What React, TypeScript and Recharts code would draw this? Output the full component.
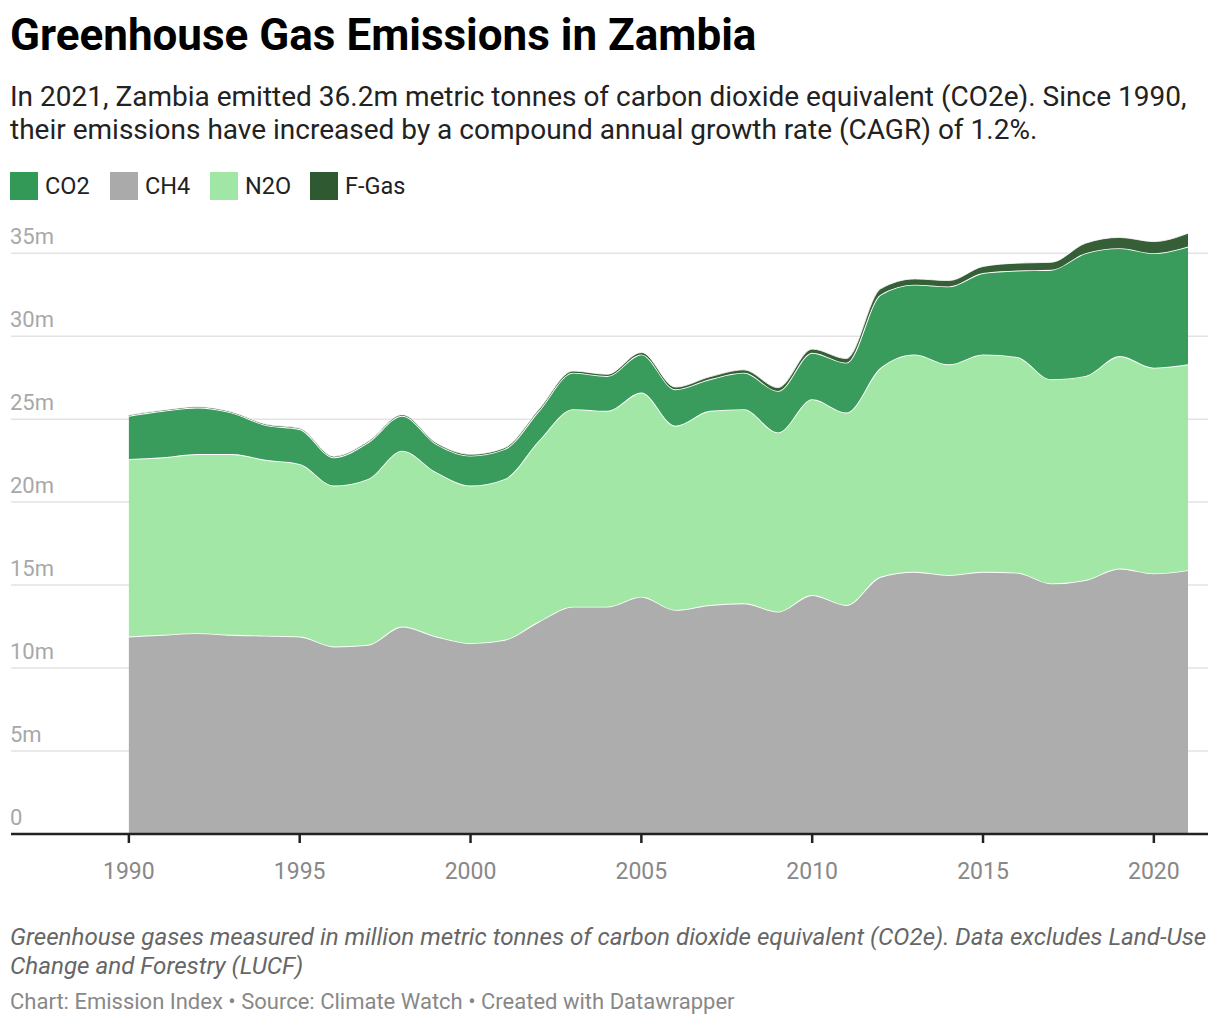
import React from 'react';
import { AreaChart, Area, XAxis, YAxis, CartesianGrid } from 'recharts';

const years = [
  1990, 1991, 1992, 1993, 1994, 1995, 1996, 1997, 1998, 1999, 2000, 2001, 2002, 2003, 2004, 2005,
  2006, 2007, 2008, 2009, 2010, 2011, 2012, 2013, 2014, 2015, 2016, 2017, 2018, 2019, 2020, 2021,
];

// million tonnes CO2e
const ch4 = [
  11.9, 12.0, 12.1, 12.0, 11.95, 11.9, 11.3, 11.4, 12.5, 11.9, 11.5, 11.7, 12.8, 13.7, 13.7, 14.3,
  13.5, 13.8, 13.9, 13.4, 14.4, 13.8, 15.5, 15.8, 15.6, 15.8, 15.75, 15.1, 15.3, 16.0, 15.7, 15.9,
];
const n2o = [
  10.7, 10.7, 10.8, 10.9, 10.6, 10.4, 9.7, 10.0, 10.6, 9.9, 9.5, 9.7, 10.9, 11.9, 11.8, 12.3,
  11.1, 11.7, 11.7, 10.8, 11.8, 11.6, 12.6, 13.1, 12.7, 13.1, 13.0, 12.3, 12.3, 12.8, 12.4, 12.4,
];
const co2 = [
  2.6, 2.8, 2.8, 2.5, 2.1, 2.1, 1.7, 2.2, 2.1, 1.7, 1.8, 1.8, 1.8, 2.2, 2.1, 2.3,
  2.2, 1.9, 2.2, 2.5, 2.8, 3.0, 4.4, 4.2, 4.7, 4.9, 5.2, 6.6, 7.4, 6.5, 6.9, 7.1,
];
const fgas = [
  0.05, 0.05, 0.05, 0.05, 0.05, 0.05, 0.06, 0.06, 0.07, 0.07, 0.08, 0.08, 0.09, 0.1, 0.1, 0.12,
  0.13, 0.15, 0.17, 0.2, 0.22, 0.25, 0.35, 0.35, 0.35, 0.4, 0.45, 0.45, 0.6, 0.65, 0.7, 0.8,
];

const yTicks = [0, 5, 10, 15, 20, 25, 30, 35];
const xTicks = [1990, 1995, 2000, 2005, 2010, 2015, 2020];

const COLORS = {
  CO2: '#339957',
  CH4: '#aaaaaa',
  N2O: '#a0e6a4',
  FGas: '#2f5a31',
};

const legendItems = [
  { name: 'CO2', color: COLORS.CO2 },
  { name: 'CH4', color: COLORS.CH4 },
  { name: 'N2O', color: COLORS.N2O },
  { name: 'F-Gas', color: COLORS.FGas },
];

const data = years.map((year, i) => ({
  year,
  CH4: ch4[i],
  N2O: n2o[i],
  CO2: co2[i],
  FGas: fgas[i],
}));

const FONT = 'Roboto, "Noto Sans", sans-serif';
const MARGIN_LEFT = 10;

// Datawrapper-style y labels: sit above the gridline, left aligned
const renderYTick = (props: any) => {
  const { y, payload } = props;
  const v = payload.value;
  return (
    <text key={`yt-${v}`} x={MARGIN_LEFT} y={y - 9} fill="#a8a8a8" fontSize={22} fontFamily={FONT} textAnchor="start">
      {v === 0 ? '0' : `${v}m`}
    </text>
  );
};

export default function App() {
  return (
    <div style={{ position: 'absolute', left: 0, top: 0, width: 1220, height: 1028, background: '#fff', fontFamily: FONT }}>
      {/* Title */}
      <div style={{ position: 'absolute', left: 10, top: 11, fontSize: 44, lineHeight: '48px', fontWeight: 700, color: '#000', whiteSpace: 'nowrap' }}>
        Greenhouse Gas Emissions in Zambia
      </div>

      {/* Subtitle */}
      <div style={{ position: 'absolute', left: 10, top: 80, fontSize: 28, lineHeight: '33px', color: '#222', whiteSpace: 'nowrap' }}>
        In 2021, Zambia emitted 36.2m metric tonnes of carbon dioxide equivalent (CO2e). Since 1990,
        <br />
        their emissions have increased by a compound annual growth rate (CAGR) of 1.2%.
      </div>

      {/* Legend */}
      {legendItems.map((item, i) => (
        <div key={item.name} style={{ position: 'absolute', left: 10 + i * 100, top: 172, height: 28, display: 'flex', alignItems: 'center' }}>
          <div style={{ width: 28, height: 28, background: item.color }} />
          <span style={{ marginLeft: 7, fontSize: 23.5, color: '#222', lineHeight: '28px' }}>{item.name}</span>
        </div>
      ))}

      {/* Chart */}
      <div style={{ position: 'absolute', left: 0, top: 200 }}>
        <AreaChart width={1220} height={694} data={data} margin={{ top: 20, right: 12, bottom: 0, left: MARGIN_LEFT }}>
          <CartesianGrid vertical={false} horizontalValues={yTicks} stroke="#e3e3e3" strokeWidth={1.5} />
          <XAxis
            dataKey="year"
            type="number"
            domain={[1986.55, 2021.585]}
            allowDataOverflow
            ticks={xTicks}
            tickSize={9}
            tickMargin={20}
            height={60}
            axisLine={{ stroke: '#222', strokeWidth: 2.5 }}
            tickLine={{ stroke: '#222', strokeWidth: 2.5 }}
            tick={{ fill: '#888', fontSize: 23, fontFamily: FONT }}
          />
          <YAxis
            domain={[0, 37]}
            ticks={yTicks}
            width={1}
            axisLine={false}
            tickLine={false}
            tick={renderYTick}
            interval={0}
          />
          <Area type="monotone" dataKey="CH4" stackId="a" fill={COLORS.CH4} fillOpacity={0.97} stroke="#fff" strokeWidth={1.8} isAnimationActive={false} />
          <Area type="monotone" dataKey="N2O" stackId="a" fill={COLORS.N2O} fillOpacity={0.97} stroke="#fff" strokeWidth={1.8} isAnimationActive={false} />
          <Area type="monotone" dataKey="CO2" stackId="a" fill={COLORS.CO2} fillOpacity={0.97} stroke="#fff" strokeWidth={1.8} isAnimationActive={false} />
          <Area type="monotone" dataKey="FGas" stackId="a" fill={COLORS.FGas} fillOpacity={0.97} stroke="#fff" strokeWidth={0.8} isAnimationActive={false} />
        </AreaChart>
      </div>

      {/* Notes */}
      <div style={{ position: 'absolute', left: 10, top: 923, fontSize: 24.2, lineHeight: '28.5px', fontStyle: 'italic', color: '#666', whiteSpace: 'nowrap' }}>
        Greenhouse gases measured in million metric tonnes of carbon dioxide equivalent (CO2e). Data excludes Land-Use
        <br />
        Change and Forestry (LUCF)
      </div>
      <div style={{ position: 'absolute', left: 10, top: 988, fontSize: 22, lineHeight: '28px', color: '#888', whiteSpace: 'nowrap' }}>
        Chart: Emission Index • Source: Climate Watch • Created with Datawrapper
      </div>
    </div>
  );
}
